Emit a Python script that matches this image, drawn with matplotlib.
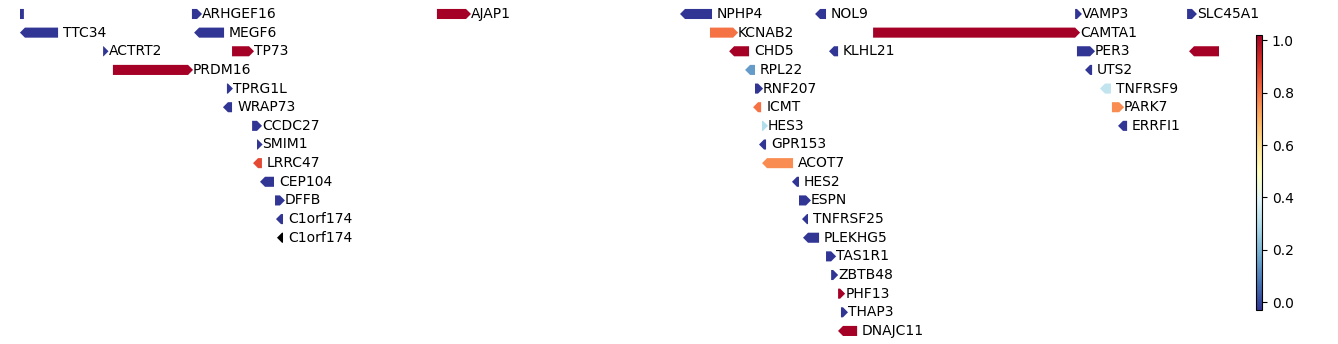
import matplotlib
matplotlib.use("Agg")
import matplotlib.pyplot as plt
import numpy as np
from matplotlib.cm import ScalarMappable
from matplotlib.colors import Normalize

# gene tracks: name, start/end (Mb), strand, row, score
names = ["", "ARHGEF16", "AJAP1", "NPHP4", "NOL9", "VAMP3", "SLC45A1",
         "TTC34", "MEGF6", "KCNAB2", "CAMTA1",
         "ACTRT2", "TP73", "CHD5", "KLHL21", "PER3", "RERE",
         "PRDM16", "RPL22", "UTS2",
         "TPRG1L", "RNF207", "TNFRSF9",
         "WRAP73", "ICMT", "PARK7",
         "CCDC27", "HES3", "ERRFI1",
         "SMIM1", "GPR153",
         "LRRC47", "ACOT7",
         "CEP104", "HES2",
         "DFFB", "ESPN",
         "C1orf174", "TNFRSF25",
         "C1orf174", "PLEKHG5",
         "TAS1R1", "ZBTB48", "PHF13", "THAP3", "DNAJC11"]
starts = [2.615, 3.455, 4.652, 5.864, 6.524, 7.770, 8.317,
          2.639, 3.490, 5.986, 6.783,
          3.021, 3.651, 6.104, 6.592, 7.779, 8.351,
          3.069, 6.182, 7.843,
          3.626, 6.206, 7.916,
          3.631, 6.221, 7.950,
          3.749, 6.240, 8.004,
          3.773, 6.250,
          3.778, 6.265,
          3.812, 6.411,
          3.861, 6.421,
          3.890, 6.460,
          3.895, 6.465,
          6.553, 6.578, 6.612, 6.626, 6.636]
ends = [2.634, 3.480, 4.794, 5.996, 6.553, 7.779, 8.341,
        2.801, 3.612, 6.099, 7.770,
        3.023, 3.734, 6.177, 6.612, 7.843, 8.820,
        3.436, 6.206, 7.853,
        3.631, 6.221, 7.945,
        3.651, 6.236, 7.985,
        3.773, 6.245, 8.024,
        3.776, 6.260,
        3.797, 6.392,
        3.856, 6.421,
        3.885, 6.455,
        3.900, 6.465,
        3.900, 6.519,
        6.578, 6.588, 6.622, 6.636, 6.705]
strands = ["-", "+", "+", "-", "-", "+", "+",
           "-", "-", "+", "+",
           "+", "+", "-", "-", "+", "-",
           "+", "-", "-",
           "+", "+", "-",
           "-", "-", "+",
           "+", "+", "-",
           "+", "-",
           "-", "-",
           "-", "-",
           "+", "+",
           "-", "-",
           "-", "-",
           "+", "+", "+", "+", "-"]
rows = [0, 0, 0, 0, 0, 0, 0,
        1, 1, 1, 1,
        2, 2, 2, 2, 2, 2,
        3, 3, 3,
        4, 4, 4,
        5, 5, 5,
        6, 6, 6,
        7, 7,
        8, 8,
        9, 9,
        10, 10,
        11, 11,
        12, 12,
        13, 14, 15, 16, 17]
lo, hi = -0.03, 1.02
scores = [lo, lo, hi, lo, lo, lo, lo,
          lo, lo, 0.8, hi,
          lo, hi, hi, lo, lo, hi,
          hi, 0.15, lo,
          lo, lo, 0.33,
          lo, 0.8, 0.76,
          lo, 0.3, lo,
          lo, lo,
          0.87, 0.76,
          lo, lo,
          lo, lo,
          lo, lo,
          np.nan, lo,
          lo, lo, hi, lo, hi]

cmap = plt.get_cmap("RdYlBu_r").with_extremes(bad="black")
norm = Normalize(vmin=lo, vmax=hi)

fig = plt.figure(figsize=(13.38, 3.44), dpi=100)
ax = fig.add_axes([20 / 1338, 0, 1199 / 1338, 1])
xmin, xmax = 2.615, 8.473
ax.set_xlim(xmin, xmax)
ax.set_ylim(17.70, -0.75)
ax.axis("off")

head = 0.0244
height = 0.54
for name, s, e, strand, r, v in zip(names, starts, ends, strands, rows, scores):
    color = cmap(norm(v)) if not np.isnan(v) else (0, 0, 0, 1)
    if strand == "+":
        ax.arrow(s, r, e - s, 0, width=height, head_width=height,
                 head_length=head, length_includes_head=False,
                 facecolor=color, edgecolor="none", linewidth=0)
    else:
        ax.arrow(e, r, -(e - s), 0, width=height, head_width=height,
                 head_length=head, length_includes_head=False,
                 facecolor=color, edgecolor="none", linewidth=0)
    lx = e + head
    if name and lx < xmax:
        ax.text(lx, r, name, ha="left", va="center", fontsize=10,
                clip_on=False)

cax = fig.add_axes([1256 / 1338, 34 / 344, 6 / 1338, 275 / 344])
cb = fig.colorbar(ScalarMappable(norm=norm, cmap=cmap), cax=cax)
cb.set_ticks([0.0, 0.2, 0.4, 0.6, 0.8, 1.0])
cb.ax.tick_params(labelsize=10)

fig.savefig("out.png", dpi=100)
